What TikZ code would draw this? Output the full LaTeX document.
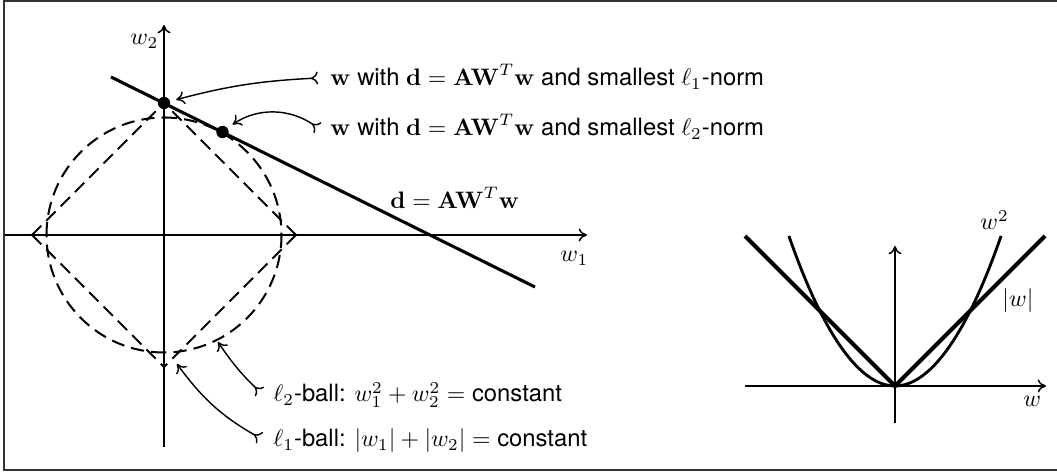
\documentclass[tikz,border=0pt]{standalone}
\usepackage[no-math]{fontspec}
\setmainfont{TeX Gyre Heros}
\usetikzlibrary{arrows.meta,calc}
\begin{document}
\begin{tikzpicture}[x=0.42pt,y=-0.42pt,
  axis/.style={line width=0.65pt,-{Computer Modern Rightarrow[length=3.5pt,width=5.5pt]}},
  dline/.style={line width=1.3pt},
  vline/.style={line width=1.7pt},
  parab/.style={line width=1.2pt},
  dashball/.style={line width=0.85pt,dash pattern=on 5.5pt off 3pt},
  ptr/.style={line width=0.6pt,{Computer Modern Rightarrow[reversed,length=3pt,width=5.5pt]}-{Computer Modern Rightarrow[length=3.5pt,width=5.5pt]}},
  lbl/.style={inner sep=0pt,anchor=base west},
  dot/.style={circle,fill=black,inner sep=0pt,minimum size=5.2pt}]
\useasboundingbox (0,0) rectangle (1057,475);
% frame
\coordinate (f1) at (1057,1);
\coordinate (f2) at (4,1);
\coordinate (f3) at (4,470);
\coordinate (f4) at (1057,470);
\draw[black!80,line width=0.8pt] (f1) -- (f2) -- (f3) -- (f4);

% left plot
\coordinate (O) at (164,235);
\coordinate (xa) at (5,235);
\coordinate (xb) at (587,235);
\coordinate (ya) at (164,447);
\coordinate (yb) at (164,25);
\draw[axis] (xa) -- (xb);
\draw[axis] (ya) -- (yb);
\node[lbl] (w2) at (130,45) {$w_2$};
\node[lbl] (w1) at (560,262) {$w_1$};

% l2 ball
\draw[dashball] ($(O)+(270:117.5)$) arc[start angle=270,end angle=360,radius=117.5];
\draw[dashball] ($(O)+(0:117.5)$) arc[start angle=0,end angle=90,radius=117.5];
\draw[dashball] ($(O)+(90:117.5)$) arc[start angle=90,end angle=180,radius=117.5];
\draw[dashball] ($(O)+(180:117.5)$) arc[start angle=180,end angle=270,radius=117.5];

% l1 ball
\coordinate (L) at (32,235);
\coordinate (T) at (164,103);
\coordinate (R) at (296,235);
\coordinate (B) at (164,367);
\draw[dashball] (R) -- (T);
\draw[dashball] (R) -- (B);
\draw[dashball] (L) -- (T);
\draw[dashball] (L) -- (B);

% constraint line
\coordinate (dA) at (111,77);
\coordinate (dB) at (535,287);
\draw[dline] (dA) -- (dB);
\node[dot] (p1) at (164,103) {};
\node[dot] (p2) at (222.5,132) {};

% labels
\node[lbl] (t1) at (330,86) {$\mathbf{w}$ with $\mathbf{d}=\mathbf{AW}^T\mathbf{w}$ and smallest $\ell_1$-norm};
\node[lbl] (t2) at (330,136) {$\mathbf{w}$ with $\mathbf{d}=\mathbf{AW}^T\mathbf{w}$ and smallest $\ell_2$-norm};
\node[lbl] (td) at (390,209) {$\mathbf{d}=\mathbf{AW}^T\mathbf{w}$};
\node[lbl] (t3) at (273,402) {$\ell_2$-ball: $w_1^2+w_2^2=\mbox{constant}$};
\node[lbl] (t4) at (273,447) {$\ell_1$-ball: $|w_1|+|w_2|=\mbox{constant}$};

% pointers
\coordinate (s1) at (318,78);
\coordinate (s2) at (318,128);
\coordinate (s3) at (260,392);
\coordinate (e3) at (218,342);
\coordinate (s4) at (260,438);
\coordinate (e4) at (177,364);
\draw[ptr,shorten >=2.5pt] (s1) to[bend right=6] (p1);
\draw[ptr,shorten >=2.5pt] (s2) to[bend right=35] (p2);
\draw[ptr] (s3) to[bend left=6] (e3);
\draw[ptr] (s4) to[bend left=12] (e4);

% right plot
\coordinate (O2) at (895,386);
\coordinate (ha) at (745,386);
\coordinate (hb) at (1046,386);
\coordinate (va) at (895,423);
\coordinate (vb) at (895,246);
\draw[axis] (ha) -- (hb);
\draw[axis] (va) -- (vb);
\coordinate (VL) at (745,236);
\coordinate (VR) at (1045,236);
\draw[vline] (VL) -- (O2) -- (VR);
\coordinate (PL) at (788.9,236);
\coordinate (PR) at (1001.1,236);
\draw[parab] (PL) parabola bend (O2) (PR);
\node[lbl] (lw2) at (980,230) {$w^2$};
\node[lbl] (lab) at (1002,307) {$|w|$};
\node[lbl] (lw) at (1023,407) {$w$};
\end{tikzpicture}
\end{document}
